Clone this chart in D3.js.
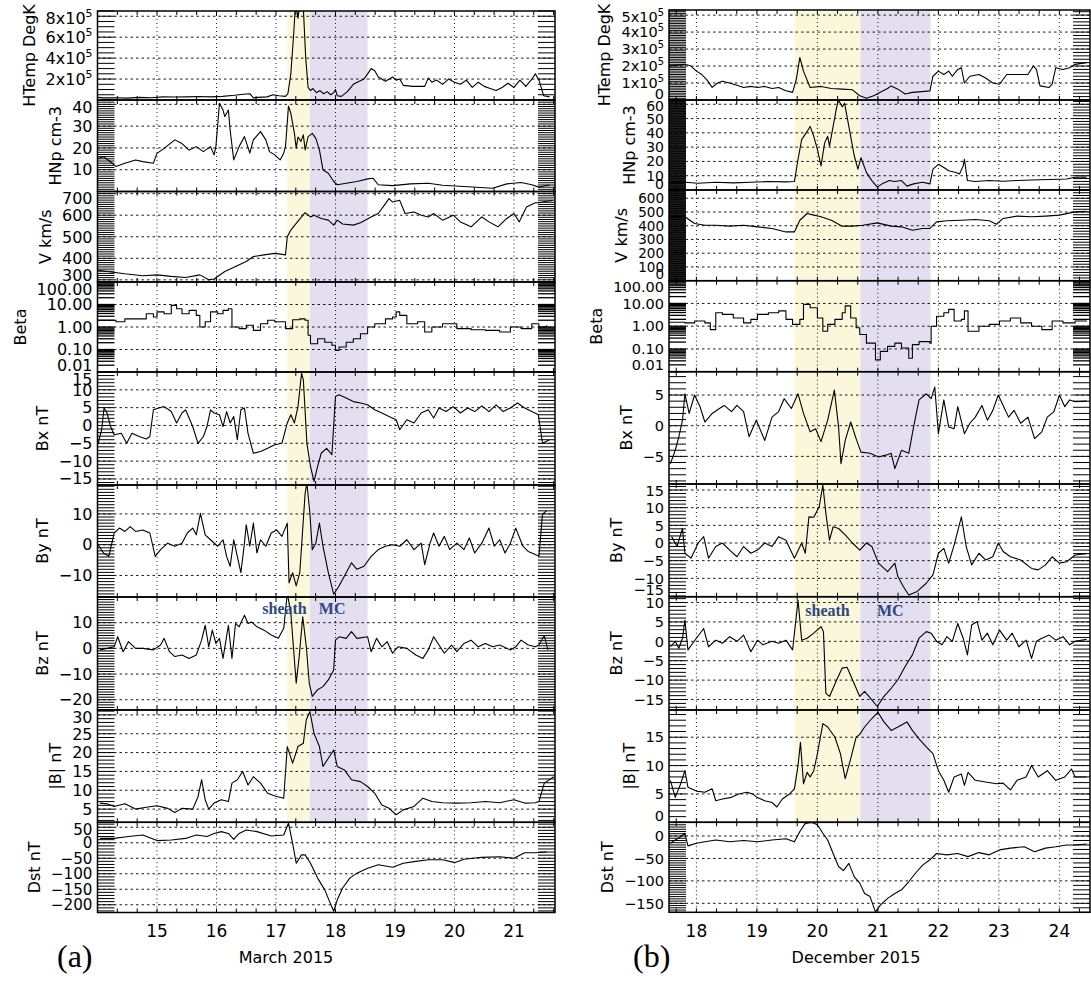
<!DOCTYPE html>
<html><head><meta charset="utf-8">
<script src="https://cdn.jsdelivr.net/npm/d3@7"></script>
<style>
body{margin:0;background:#fff;}
svg{display:block;}
text{font-family:"DejaVu Sans",sans-serif;fill:#000;}
</style></head><body>
<svg id="c" width="1091" height="981"></svg>
<script>
// ---------------- DATA: March 2015 (a) ----------------
const aTemp=[[14.00,0.25e5],[14.10,0.20e5],[14.30,0.22e5],[14.50,0.18e5],[14.70,0.25e5],[14.90,0.22e5],[15.10,0.30e5],[15.30,0.28e5],[15.50,0.30e5],[15.70,0.33e5],[15.90,0.30e5],[16.10,0.35e5],[16.30,0.45e5],[16.45,0.55e5],[16.56,0.60e5],[16.62,0.20e5],[16.70,0.25e5],[16.85,0.30e5],[16.95,0.50e5],[17.05,0.40e5],[17.16,0.35e5],[17.20,0.60e5],[17.25,2.5e5],[17.30,6.5e5],[17.33,9.5e5],[17.37,7.8e5],[17.41,9.6e5],[17.46,8.8e5],[17.50,4.0e5],[17.54,1.2e5],[17.58,0.9e5],[17.62,1.1e5],[17.68,0.7e5],[17.74,0.9e5],[17.80,0.6e5],[17.86,0.8e5],[17.92,0.5e5],[17.97,0.7e5],[18.00,1.0e5],[18.03,0.4e5],[18.10,0.35e5],[18.20,0.8e5],[18.30,1.5e5],[18.40,1.8e5],[18.48,2.0e5],[18.54,2.5e5],[18.60,3.0e5],[18.66,2.8e5],[18.72,2.2e5],[18.84,1.8e5],[18.96,2.2e5],[19.02,1.9e5],[19.08,2.0e5],[19.14,1.4e5],[19.30,1.3e5],[19.50,1.3e5],[19.56,2.1e5],[19.62,1.7e5],[19.70,1.9e5],[19.80,1.5e5],[19.90,2.0e5],[20.00,1.7e5],[20.10,1.5e5],[20.20,1.9e5],[20.30,1.2e5],[20.40,1.7e5],[20.50,1.3e5],[20.60,1.1e5],[20.70,0.9e5],[20.80,1.2e5],[20.90,1.6e5],[21.00,1.2e5],[21.10,1.9e5],[21.20,1.3e5],[21.30,2.0e5],[21.36,2.5e5],[21.42,1.9e5],[21.50,0.4e5],[21.60,0.3e5]];
const aNp=[[14.00,15],[14.10,16],[14.20,14],[14.31,11.5],[14.46,13],[14.64,14.5],[14.76,13.7],[14.94,13],[15.00,17.5],[15.12,19.8],[15.30,23.7],[15.42,22],[15.54,19],[15.66,20.6],[15.78,18.3],[15.90,20.6],[15.96,16.8],[15.99,20.6],[16.05,40.5],[16.11,37.4],[16.14,34.4],[16.20,37.4],[16.23,28],[16.29,14.5],[16.38,20.6],[16.47,25.2],[16.56,17.6],[16.62,23.7],[16.74,27.5],[16.83,23.7],[16.89,18.3],[16.98,16.8],[17.07,14.5],[17.13,17.6],[17.16,20.6],[17.21,39.2],[17.25,35.9],[17.31,26.7],[17.34,19.9],[17.37,25],[17.42,23],[17.46,26],[17.49,19.1],[17.54,25.2],[17.61,26.7],[17.67,24.4],[17.73,19.1],[17.79,9.9],[17.88,8.4],[17.97,4.6],[18.03,3.1],[18.18,3.8],[18.36,4.6],[18.54,5.8],[18.63,6.1],[18.72,3.1],[18.96,2.7],[19.26,3.5],[19.56,3.8],[19.80,2.9],[20.16,2.3],[20.64,1.5],[20.88,3.5],[21.12,4.1],[21.30,3.1],[21.42,2.0],[21.50,2.5],[21.60,3]];
const aV=[[14.00,346],[14.16,339],[14.46,328],[14.76,319],[15.00,323],[15.24,316],[15.48,311],[15.72,323],[15.87,300],[15.96,304],[16.14,339],[16.32,362],[16.50,385],[16.62,408],[16.80,416],[16.98,423],[17.16,416],[17.19,500],[17.25,531],[17.34,562],[17.43,592],[17.49,612],[17.58,592],[17.64,600],[17.76,585],[17.88,577],[17.97,554],[18.03,577],[18.12,559],[18.30,554],[18.42,565],[18.60,592],[18.72,608],[18.84,654],[18.90,677],[18.96,661],[19.08,669],[19.17,608],[19.32,615],[19.44,600],[19.56,592],[19.65,608],[19.80,577],[19.98,600],[20.10,569],[20.28,546],[20.46,592],[20.58,569],[20.73,546],[20.88,585],[21.00,608],[21.09,569],[21.21,638],[21.36,658],[21.42,658],[21.55,665],[21.65,668]];
const aBeta=[[14.00,2.0],[14.31,1.7],[14.46,2.3],[14.82,3.9],[14.94,2.8],[15.00,4.7],[15.12,3.9],[15.24,9.1],[15.33,6.5],[15.42,3.9],[15.54,5.5],[15.66,3.3],[15.72,1.0],[15.81,1.7],[15.90,4.7],[16.02,3.9],[16.11,5.5],[16.20,6.5],[16.26,1.0],[16.38,0.85],[16.50,1.2],[16.62,0.71],[16.74,1.4],[16.86,2.0],[16.98,1.7],[17.10,1.7],[17.16,0.85],[17.28,2.1],[17.40,2.3],[17.49,2.0],[17.54,0.43],[17.58,0.18],[17.70,0.30],[17.82,0.21],[17.94,0.155],[18.00,0.091],[18.06,0.13],[18.18,0.21],[18.30,0.30],[18.42,0.5],[18.54,1.0],[18.66,1.4],[18.84,2.3],[18.96,2.8],[19.02,4.7],[19.08,3.3],[19.20,1.4],[19.38,1.7],[19.50,0.6],[19.62,1.0],[19.80,1.4],[20.04,0.85],[20.28,0.76],[20.52,0.71],[20.76,0.6],[20.94,1.0],[21.12,0.85],[21.30,1.4],[21.42,1.0],[21.55,1.2]];
const aBx=[[14.01,-5],[14.07,-1.2],[14.11,4.9],[14.16,3.5],[14.22,-0.3],[14.28,-2.6],[14.40,-2.2],[14.49,-5],[14.58,-2.2],[14.70,-3.1],[14.82,-3.8],[14.88,-3.1],[14.94,4.4],[15.03,4.9],[15.12,5.3],[15.24,3.9],[15.33,0.7],[15.42,3.5],[15.48,4.4],[15.60,-0.3],[15.69,-5],[15.78,-3.1],[15.84,-0.3],[15.90,4.4],[15.96,3.5],[16.05,3],[16.11,-0.3],[16.17,3.9],[16.23,0.7],[16.29,2.5],[16.35,-4],[16.41,4.4],[16.47,4.9],[16.53,-2.2],[16.62,-7.8],[16.74,-7.3],[16.86,-6.4],[16.98,-5.4],[17.10,-5],[17.19,0.7],[17.25,3],[17.31,0.7],[17.37,5.3],[17.43,14.7],[17.46,12.8],[17.52,-5],[17.58,-11.5],[17.64,-15.7],[17.70,-11.5],[17.76,-7.8],[17.85,-6.4],[17.94,-8.2],[18.00,8.1],[18.06,8.6],[18.18,7.7],[18.30,6.7],[18.42,6.3],[18.54,5.8],[18.66,4.4],[18.78,3.5],[18.90,2.5],[19.02,1.6],[19.08,-1.2],[19.20,1.6],[19.32,0.7],[19.44,3.5],[19.56,4.4],[19.65,2.1],[19.74,4.9],[19.86,3.9],[19.98,5.3],[20.10,3.5],[20.22,4.9],[20.34,3.9],[20.46,5.5],[20.58,3.9],[20.70,5.8],[20.82,3.9],[20.94,4.9],[21.06,6.3],[21.18,4.9],[21.30,3.9],[21.41,3],[21.48,-5],[21.60,-4]];
const aBy=[[14.01,0],[14.10,-2.7],[14.19,-3.8],[14.28,3.8],[14.37,5.4],[14.46,4.3],[14.55,5.9],[14.64,4.3],[14.76,4.8],[14.88,3.8],[14.97,-3.8],[15.06,-1.6],[15.18,0.5],[15.30,-0.5],[15.42,0.5],[15.51,3.8],[15.60,5.4],[15.66,3.2],[15.73,10.2],[15.81,3.2],[15.90,1.6],[16.02,-0.5],[16.11,1.6],[16.17,-3.8],[16.23,-7],[16.29,1.6],[16.35,-3.8],[16.41,-9.1],[16.47,0.5],[16.50,6.5],[16.56,-0.5],[16.62,7],[16.68,-2.7],[16.74,1.6],[16.83,-0.5],[16.92,3.8],[17.01,4.8],[17.10,2.7],[17.19,7],[17.22,-12.4],[17.28,-9.1],[17.34,-13.4],[17.40,-9.1],[17.49,16.7],[17.52,20],[17.57,10.2],[17.61,-1.6],[17.67,0.5],[17.73,7],[17.79,-0.5],[17.88,-9.1],[17.97,-16.1],[18.06,-13.4],[18.18,-9.1],[18.27,-5.9],[18.36,-8],[18.48,-7],[18.60,-3.8],[18.72,-1.6],[18.84,-0.5],[18.96,0],[19.08,-0.5],[19.20,1.6],[19.32,-1.6],[19.44,0.5],[19.50,-6.5],[19.59,0.5],[19.65,3.8],[19.74,-0.5],[19.83,2.7],[19.92,-1.6],[20.04,0.5],[20.16,-1.6],[20.25,2.2],[20.34,-2.7],[20.46,0.5],[20.58,5.4],[20.67,-0.5],[20.76,1.6],[20.85,-2.7],[20.94,0.5],[21.03,5.4],[21.15,-0.5],[21.24,-2.2],[21.36,-3.2],[21.42,-3.8],[21.48,10],[21.55,11]];
const aBz=[[14.04,-0.6],[14.16,0],[14.28,0.6],[14.34,4.5],[14.43,-1.3],[14.52,2.6],[14.64,0],[14.76,0],[14.94,-0.6],[15.06,1.3],[15.12,3.9],[15.21,-1.3],[15.30,-3.2],[15.42,-2.6],[15.54,-3.9],[15.66,-2.6],[15.75,3.2],[15.81,9],[15.87,0.6],[15.93,7.1],[15.99,1.9],[16.05,3.9],[16.11,-3.9],[16.20,9],[16.26,-3.9],[16.32,9.7],[16.38,8.4],[16.47,12.9],[16.53,9.7],[16.59,10.3],[16.68,8.4],[16.80,7.1],[16.92,5.2],[17.04,3.9],[17.13,7.8],[17.19,21.5],[17.25,13.6],[17.31,-4.5],[17.34,-13.6],[17.39,-3.2],[17.45,12.3],[17.51,0.6],[17.56,-13.6],[17.61,-18.7],[17.70,-16.1],[17.79,-14.9],[17.88,-12.3],[17.97,-8.4],[18.00,3.2],[18.06,4.5],[18.18,3.9],[18.27,6.5],[18.36,3.9],[18.54,4.5],[18.60,-1.3],[18.69,3.9],[18.78,0.6],[18.87,2.6],[18.96,-1.9],[19.05,0.6],[19.20,0],[19.35,-2.6],[19.47,-3.9],[19.56,-0.6],[19.65,4.5],[19.74,1.3],[19.83,-1.9],[19.95,1.3],[20.04,-1.3],[20.16,1.9],[20.28,3.2],[20.40,0.6],[20.52,1.9],[20.64,0.6],[20.76,1.3],[20.94,-0.6],[21.03,0.6],[21.12,3.2],[21.24,1.3],[21.36,0.6],[21.42,1.3],[21.51,5],[21.57,-0.6]];
const aB=[[14.04,6.6],[14.16,6.4],[14.28,5.7],[14.46,6.4],[14.64,5],[14.82,5.5],[15.00,5.9],[15.18,5.2],[15.30,4.1],[15.42,5.2],[15.60,5],[15.69,8.3],[15.75,12.8],[15.81,7.5],[15.87,5],[15.96,6.6],[16.08,7.5],[16.20,7],[16.26,11.9],[16.35,12.8],[16.44,15],[16.53,11.4],[16.62,13.6],[16.74,11.9],[16.86,9.2],[16.98,8.5],[17.13,7.9],[17.19,21.6],[17.28,17.2],[17.37,21.6],[17.46,22.5],[17.51,28.7],[17.57,30.9],[17.64,25.1],[17.73,21.6],[17.79,16.3],[17.88,18.5],[17.97,20.7],[18.03,16.3],[18.15,15.4],[18.27,12.8],[18.42,12.3],[18.54,11],[18.66,9.2],[18.78,6.1],[18.90,5.2],[19.02,3.5],[19.14,4.8],[19.32,5.7],[19.47,7.9],[19.62,7],[19.80,6.7],[20.04,6.6],[20.28,6.7],[20.52,7],[20.76,6.7],[21.00,7.5],[21.18,6.6],[21.36,6.7],[21.42,7],[21.51,11.9],[21.67,13.6]];
const aDst=[[14.04,14],[14.28,14],[14.52,20],[14.76,25],[15.00,7],[15.24,9],[15.48,14],[15.66,25],[15.84,20],[15.96,30],[16.08,36],[16.20,30],[16.29,11],[16.38,30],[16.50,41],[16.68,36],[16.92,22],[17.13,25],[17.21,63],[17.28,-2],[17.34,-66],[17.43,-39],[17.49,-39],[17.58,-66],[17.70,-114],[17.82,-152],[17.91,-194],[17.97,-221],[18.03,-184],[18.12,-146],[18.24,-114],[18.36,-98],[18.54,-82],[18.72,-71],[18.96,-79],[19.14,-66],[19.32,-61],[19.56,-55],[19.80,-55],[20.01,-64],[20.16,-53],[20.46,-47],[20.76,-45],[21.00,-50],[21.18,-32],[21.36,-32],[21.55,-30]];

// ---------------- DATA: December 2015 (b) ----------------
const bTemp=[[17.55,2.0e5],[17.81,2.1e5],[17.91,2.0e5],[18.00,1.7e5],[18.09,1.5e5],[18.17,1.2e5],[18.26,0.74e5],[18.35,1.0e5],[18.43,1.1e5],[18.55,1.0e5],[18.67,0.87e5],[18.78,0.74e5],[18.90,0.8e5],[19.01,0.74e5],[19.13,0.8e5],[19.25,0.68e5],[19.36,0.74e5],[19.48,0.54e5],[19.59,0.45e5],[19.65,1.2e5],[19.71,2.5e5],[19.77,1.7e5],[19.88,0.74e5],[20.06,0.8e5],[20.23,0.68e5],[20.41,0.64e5],[20.58,0.6e5],[20.70,0.25e5],[20.81,0.1e5],[20.93,0.25e5],[21.04,0.45e5],[21.16,0.68e5],[21.22,0.83e5],[21.33,0.64e5],[21.45,0.35e5],[21.57,0.45e5],[21.68,0.48e5],[21.86,0.54e5],[21.91,1.4e5],[22.00,1.7e5],[22.09,1.5e5],[22.17,1.7e5],[22.23,1.4e5],[22.32,1.8e5],[22.38,1.9e5],[22.43,1.0e5],[22.52,1.4e5],[22.67,1.5e5],[22.78,1.3e5],[22.90,1.0e5],[23.01,0.93e5],[23.13,1.5e5],[23.30,1.5e5],[23.48,1.5e5],[23.57,2.0e5],[23.62,1.8e5],[23.68,0.83e5],[23.83,0.74e5],[23.88,0.93e5],[23.94,1.9e5],[24.06,1.8e5],[24.17,1.9e5],[24.26,2.1e5],[24.45,2.2e5]];
const bNp=[[17.55,5],[17.81,5.4],[18.03,4.7],[18.32,5.4],[18.61,5],[18.90,5.4],[19.19,5.9],[19.48,5.7],[19.62,5.9],[19.68,21.5],[19.74,35.3],[19.83,41],[19.88,44.5],[19.94,37.6],[20.00,28.4],[20.06,16.9],[20.12,33],[20.17,37.6],[20.20,30.7],[20.26,44.5],[20.32,58.3],[20.35,62.9],[20.41,58.3],[20.45,60.6],[20.49,51.4],[20.55,37.6],[20.61,23.8],[20.67,14.6],[20.72,22.6],[20.81,12.3],[20.90,6.6],[20.99,2],[21.07,4.3],[21.19,6.6],[21.28,5.9],[21.39,6.6],[21.48,2.7],[21.59,4.3],[21.74,5.4],[21.86,4.3],[21.91,14.6],[22.00,18],[22.09,15.8],[22.17,13.5],[22.29,12.3],[22.35,11.2],[22.41,16.9],[22.43,21.5],[22.48,6.6],[22.61,5.9],[22.84,6.6],[23.07,6.1],[23.30,6.6],[23.54,7],[23.83,7.3],[24.12,7.7],[24.26,8.9],[24.45,9]];
const bV=[[17.55,470],[17.81,465],[17.97,416],[18.14,404],[18.32,404],[18.55,397],[18.78,404],[19.01,392],[19.25,380],[19.48,355],[19.62,355],[19.71,440],[19.83,489],[19.94,477],[20.06,465],[20.23,440],[20.41,397],[20.58,397],[20.75,404],[20.99,421],[21.22,397],[21.39,392],[21.57,367],[21.74,380],[21.86,380],[21.97,428],[22.14,436],[22.38,440],[22.61,445],[22.84,436],[22.96,411],[23.07,453],[23.30,470],[23.54,465],[23.77,470],[24.00,477],[24.26,501],[24.45,505]];
const bBeta=[[17.55,1.5],[17.81,1.4],[17.97,1.7],[18.14,1.4],[18.23,0.71],[18.32,3.9],[18.43,3.3],[18.61,2.3],[18.78,1.4],[18.90,2.0],[19.01,3.3],[19.19,3.9],[19.36,4.7],[19.48,2.0],[19.59,1.2],[19.71,2.0],[19.77,9.1],[19.88,6.5],[20.00,2.3],[20.09,0.6],[20.17,1.2],[20.29,2.0],[20.41,3.9],[20.46,7.8],[20.55,2.3],[20.64,0.85],[20.70,0.43],[20.81,0.18],[20.96,0.033],[21.04,0.078],[21.16,0.13],[21.28,0.18],[21.39,0.11],[21.51,0.039],[21.57,0.155],[21.68,0.21],[21.86,0.18],[21.88,1.0],[21.97,2.75],[22.09,3.9],[22.17,5.5],[22.26,1.7],[22.38,2.0],[22.43,4.7],[22.49,0.6],[22.67,1.0],[22.84,1.2],[23.01,1.7],[23.19,2.3],[23.36,1.4],[23.54,1.0],[23.71,0.71],[23.88,1.7],[24.06,1.4],[24.26,1.7],[24.45,1.6]];
const bBx=[[17.57,-6.2],[17.65,-4],[17.71,-1.8],[17.77,0.9],[17.81,5.2],[17.88,2],[17.97,5],[18.06,3.1],[18.14,0.6],[18.26,2],[18.38,2.8],[18.46,3.3],[18.58,2.3],[18.67,3.3],[18.78,2.3],[18.87,-1.8],[18.99,0.9],[19.13,-2.4],[19.25,1.4],[19.36,2.3],[19.45,4.4],[19.57,2.8],[19.68,5.2],[19.77,2],[19.88,-1],[19.97,-0.5],[20.06,-2.6],[20.17,0.9],[20.28,5.8],[20.35,-0.2],[20.39,-6.2],[20.46,-2.4],[20.55,0.6],[20.64,-2.1],[20.72,-4.3],[20.87,-4.5],[21.01,-5.1],[21.13,-4.8],[21.22,-4.5],[21.28,-7],[21.39,-4],[21.51,-4.5],[21.59,-0.2],[21.68,4.2],[21.80,5.2],[21.88,4.4],[21.94,6.3],[22.00,-1.3],[22.09,4.2],[22.17,-0.2],[22.26,-0.5],[22.32,3.1],[22.43,-1.3],[22.52,0.4],[22.61,1.4],[22.72,3.3],[22.81,0.9],[22.90,2.5],[22.99,5],[23.07,3.3],[23.16,1.4],[23.25,2.5],[23.36,0.4],[23.48,1.4],[23.59,-2.1],[23.71,-1],[23.80,1.4],[23.91,2.3],[24.00,5],[24.09,3.1],[24.17,4.2],[24.26,3.9],[24.45,4]];
const bBy=[[17.59,1.8],[17.68,-1],[17.77,4.1],[17.81,-2.9],[17.91,-4.3],[18.03,0],[18.12,1.8],[18.20,-4.3],[18.32,-1],[18.43,0],[18.55,-2],[18.67,-3.9],[18.78,-1],[18.90,-2.9],[19.01,-2],[19.13,0],[19.25,-1],[19.36,1.8],[19.48,0.8],[19.62,-4.3],[19.74,0],[19.80,-2.9],[19.86,7.4],[19.94,7.3],[20.03,10.3],[20.09,16.4],[20.14,8.4],[20.20,0.8],[20.26,4.6],[20.35,4.1],[20.46,2.3],[20.58,0],[20.70,-2],[20.81,0],[20.90,-1],[21.01,-5.7],[21.16,-8.1],[21.28,-5.7],[21.33,-9.5],[21.42,-12.3],[21.51,-14.7],[21.65,-13.7],[21.80,-11.4],[21.91,-9],[22.00,-2.9],[22.09,-1.5],[22.17,-5.7],[22.26,-0.6],[22.38,7.4],[22.46,-1],[22.55,-6.2],[22.67,-2.9],[22.78,-4.8],[22.90,-3.9],[22.99,0],[23.07,-2.4],[23.19,-3.9],[23.36,-4.8],[23.54,-7.2],[23.65,-7.6],[23.77,-6.2],[23.88,-3.9],[24.00,-5.7],[24.12,-5.3],[24.26,-3.4],[24.45,-3]];
const bBz=[[17.57,-1.4],[17.65,0],[17.71,-1.8],[17.77,0.8],[17.81,5.5],[17.86,-2.2],[18.00,0.8],[18.12,3.3],[18.20,-1.4],[18.32,0.3],[18.43,-0.5],[18.55,1.2],[18.67,0],[18.78,1.6],[18.90,-2.7],[19.01,0.3],[19.10,-0.9],[19.25,0],[19.36,-0.5],[19.48,0.3],[19.59,-2.2],[19.68,10.6],[19.74,0.3],[19.83,0.8],[19.94,2.1],[20.06,3.8],[20.10,2.5],[20.14,-13.4],[20.20,-14.2],[20.32,-9.9],[20.41,-6.9],[20.49,-6.7],[20.58,-9.9],[20.70,-14.2],[20.78,-12.9],[20.90,-15.1],[20.99,-16.8],[21.10,-14.2],[21.22,-12.1],[21.33,-9.9],[21.45,-6.5],[21.57,-3.5],[21.68,0.8],[21.80,2.5],[21.88,2.1],[21.97,0],[22.06,-0.9],[22.14,1.2],[22.23,0],[22.32,4.6],[22.41,0.8],[22.48,-3.5],[22.55,4.2],[22.64,5.1],[22.72,0.3],[22.81,2.1],[22.90,-0.9],[23.01,2.9],[23.13,0.3],[23.22,2.1],[23.33,-1.4],[23.45,0.3],[23.54,-4.4],[23.62,0],[23.71,0.8],[23.83,1.6],[23.94,0.3],[24.06,1.2],[24.17,-0.9],[24.26,0],[24.45,0.5]];
const bB=[[17.57,7.4],[17.65,4.4],[17.74,6.8],[17.81,9.1],[17.86,6.2],[18.00,5.5],[18.14,5.3],[18.26,5.9],[18.32,3.8],[18.43,4.1],[18.58,4.4],[18.70,5],[18.84,5.3],[18.93,5],[19.00,4.4],[19.13,3.8],[19.25,3.5],[19.33,2.7],[19.42,4.1],[19.54,5],[19.62,5.9],[19.68,10],[19.72,14.1],[19.77,6.8],[19.83,8.8],[19.88,8],[19.94,9.1],[20.00,12.1],[20.09,17.4],[20.17,16.8],[20.29,15],[20.38,12.1],[20.46,7.7],[20.55,11.2],[20.64,15],[20.70,15.5],[20.78,16.8],[20.90,18.3],[21.00,19.4],[21.10,17.7],[21.22,16.2],[21.33,16.8],[21.48,17.7],[21.57,16.2],[21.68,14.7],[21.80,13.3],[21.91,12.1],[22.00,9.1],[22.09,7.4],[22.17,5.3],[22.26,8],[22.38,8.5],[22.43,6.5],[22.49,8.8],[22.61,7.4],[22.78,7.1],[22.96,6.8],[23.07,6.9],[23.19,5.7],[23.30,7.4],[23.45,8],[23.54,10],[23.65,8],[23.80,9.1],[23.94,7.4],[24.09,8],[24.20,9.4],[24.26,8],[24.45,8]];
const bDst=[[17.57,-16],[17.65,-9],[17.74,-1.5],[17.81,6],[17.86,-22],[18.00,-16],[18.14,-13],[18.32,-9],[18.55,-13],[18.78,-10],[19.01,-13],[19.25,-9],[19.48,-6],[19.62,-13],[19.71,10],[19.80,28],[19.91,30],[20.00,25],[20.09,6],[20.17,-9],[20.26,-39],[20.35,-68],[20.43,-77],[20.52,-61],[20.61,-91],[20.70,-105],[20.78,-128],[20.87,-135],[20.96,-169],[21.04,-154],[21.16,-139],[21.28,-128],[21.39,-120],[21.51,-102],[21.62,-83],[21.74,-65],[21.86,-53],[21.97,-39],[22.14,-42],[22.32,-39],[22.49,-46],[22.67,-37],[22.84,-42],[23.01,-31],[23.19,-27],[23.42,-24],[23.59,-35],[23.77,-27],[23.94,-24],[24.12,-20],[24.26,-20],[24.45,-18]];

// ---------------- axes / labels ----------------
const panelTitles=["HTemp DegK","HNp cm-3","V km/s","Beta","Bx nT","By nT","Bz nT","|B| nT","Dst nT"];
const domainsA=[[0,8.5e5],[0,42],[290,710],[0.01,100],[-16.7,15],[-17,19.4],[-24,20],[1.5,31.3],[-225,66]];
const ticksA=[[2e5,4e5,6e5,8e5],[10,20,30,40],[300,400,500,600,700],[0.01,0.1,1,10,100],[-15,-10,-5,0,5,10,15],[-10,0,10],[-20,-10,0,10],[5,10,15,20,25,30],[-200,-150,-100,-50,0,50]];
const domainsB=[[0,5.3e5],[0,63],[0,660],[0.01,100],[-9.5,8.8],[-15.2,16.7],[-17.7,11.5],[0,19.8],[-170,30.5]];
const ticksB=[[0,1e5,2e5,3e5,4e5,5e5],[0,10,20,30,40,50,60],[0,100,200,300,400,500,600],[0.01,0.1,1,10,100],[-5,0,5],[-15,-10,-5,0,5,10,15],[-15,-10,-5,0,5,10],[0,5,10,15],[-150,-100,-50,0]];
const dayTicksA=[15,16,17,18,19,20,21];
const dayTicksB=[18,19,20,21,22,23,24];
const eventA=[17.19,17.57,18.54];   // sheath start, MC start, MC end
const eventB=[19.62,20.71,21.87];
const monthA="March 2015", monthB="December 2015";

const MINUS="\u2212";
const svg=d3.select("#c");
const defs=svg.append("defs");

const columns=[
 {id:"a",x0:97.5,x1:555,xdom:[14,21.69],bounds:[11,100,191.5,282,372,485,597,710,822.3,912.5],
  series:[aTemp,aNp,aV,aBeta,aBx,aBy,aBz,aB,aDst],domains:domainsA,ticks:ticksA,days:dayTicksA,event:eventA,
  month:monthA,monthX:286,tag:"(a)",tagX:57,sheathDay:16.77,mcDay:17.72,textY:614,fs:16,
  bandL:[20,40,40,0,25,35,60,35,35],bandR:[20,30,30,0,25,30,40,30,35]},
 {id:"b",x0:669,x1:1090,xdom:[17.547,24.506],bounds:[10,100,190,280.7,371.7,484,596.7,710,822.3,912.3],
  series:[bTemp,bNp,bV,bBeta,bBx,bBy,bBz,bB,bDst],domains:domainsB,ticks:ticksB,days:dayTicksB,event:eventB,
  month:monthB,monthX:856,tag:"(b)",tagX:633,sheathDay:19.80,mcDay:20.985,textY:616,fs:14.5,
  bandL:[60,100,100,0,25,30,30,25,30],bandR:[30,30,40,0,25,25,25,25,25]}
];

function fmt(i,v){
  if(i===0) return v===0?["0",null]:[(v/1e5)+"x10","5"];
  if(i===3) return [v.toFixed(2),null];
  return [(v<0?MINUS:"")+Math.abs(v),null];
}

columns.forEach(col=>{
  const x=d3.scaleLinear().domain(col.xdom).range([col.x0,col.x1]);
  const g=svg.append("g");
  const yT=col.bounds[0], yB=col.bounds[8];
  // event shading
  g.append("rect").attr("x",x(col.event[0])).attr("y",yT).attr("width",x(col.event[1])-x(col.event[0])).attr("height",yB-yT).attr("fill","#faf7da");
  g.append("rect").attr("x",x(col.event[1])).attr("y",yT).attr("width",x(col.event[2])-x(col.event[1])).attr("height",yB-yT).attr("fill","#e4dff0");

  col.series.forEach((data,i)=>{
    const top=col.bounds[i], bot=col.bounds[i+1];
    const isLog=(i===3);
    const y=(isLog?d3.scaleLog():d3.scaleLinear()).domain(col.domains[i]).range([bot,top]);
    const pg=g.append("g");
    const cid="clip-"+col.id+i;
    defs.append("clipPath").attr("id",cid).append("rect").attr("x",col.x0).attr("y",top).attr("width",col.x1-col.x0).attr("height",bot-top);
    // horizontal grid
    pg.selectAll(".hg").data(col.ticks[i].filter(t=>Math.abs(y(t)-top)>1.5&&Math.abs(y(t)-bot)>1.5)).join("line")
      .attr("x1",col.x0).attr("x2",col.x1).attr("y1",d=>y(d)).attr("y2",d=>y(d))
      .attr("stroke","#000").attr("stroke-width",0.9).attr("stroke-dasharray","2.5,3");
    // vertical grid
    pg.selectAll(".vg").data(col.days).join("line")
      .attr("x1",d=>x(d)).attr("x2",d=>x(d)).attr("y1",top).attr("y2",bot)
      .attr("stroke","#000").attr("stroke-width",0.9).attr("stroke-dasharray","1,3");
    // data
    const line=d3.line().x(d=>x(d[0])).y(d=>y(d[1])).curve(isLog?d3.curveStepAfter:d3.curveLinear);
    pg.append("path").datum(data).attr("clip-path","url(#"+cid+")").attr("d",line)
      .attr("fill","none").attr("stroke","#000").attr("stroke-width",1.1).attr("stroke-linejoin","round");
    // hash bands (minor ticks)
    const stripes=n=>(isLog?y.ticks():y.ticks(n)).filter(v=>y(v)>=top&&y(v)<=bot);
    [[col.x0,col.bandL[i]],[col.x1-17,col.bandR[i]]].forEach(([bx,n])=>{
      pg.selectAll(null).data(stripes(n)).join("line")
        .attr("x1",bx).attr("x2",bx+17).attr("y1",d=>y(d)).attr("y2",d=>y(d))
        .attr("stroke","#000").attr("stroke-width",isLog?1.3:1);
    });
    // minor x ticks (every 8 h)
    const mt=d3.range(Math.ceil(col.xdom[0]*3),Math.floor(col.xdom[1]*3)+1).map(k=>k/3);
    pg.selectAll(null).data(mt).join("line").attr("x1",d=>x(d)).attr("x2",d=>x(d)).attr("y1",top).attr("y2",top+4).attr("stroke","#000");
    pg.selectAll(null).data(mt).join("line").attr("x1",d=>x(d)).attr("x2",d=>x(d)).attr("y1",bot).attr("y2",bot-4).attr("stroke","#000");
    // frame
    pg.append("rect").attr("x",col.x0).attr("y",top).attr("width",col.x1-col.x0).attr("height",bot-top)
      .attr("fill","none").attr("stroke","#000").attr("stroke-width",1.5);
    // tick labels: kept inside the panel's vertical extent; shrunk where the ticks are crowded
    const lg=pg.append("g");
    const tk=col.ticks[i];
    let minGap=1e9;
    for(let k=1;k<tk.length;k++) minGap=Math.min(minGap,Math.abs(y(tk[k])-y(tk[k-1])));
    const fs=Math.min(col.fs,minGap*0.98);
    const pad=fs*0.45;
    tk.forEach(v=>{
      const [m,sup]=fmt(i,v);
      const yc=Math.max(top+pad,Math.min(bot-pad,y(v)));
      const t=lg.append("text").attr("x",col.x0-5).attr("y",yc+fs*0.36).attr("text-anchor","end").attr("font-size",fs);
      t.append("tspan").text(m);
      if(sup) t.append("tspan").attr("dy",-fs*0.42).attr("font-size",fs*0.68).text(sup);
    });
    const bb=lg.node().getBBox();
    pg.append("text").attr("transform","translate("+(bb.x-11)+","+((top+bot)/2)+") rotate(-90)")
      .attr("text-anchor","middle").attr("font-size",16).text(panelTitles[i]);
  });
  // day labels
  g.selectAll(".dl").data(col.days).join("text").attr("x",d=>x(d)).attr("y",937).attr("text-anchor","middle").attr("font-size",17).text(d=>d);
  g.append("text").attr("x",col.monthX).attr("y",963).attr("text-anchor","middle").attr("font-size",16).text(col.month);
  g.append("text").attr("x",col.tagX).attr("y",967).attr("font-size",32).style("font-family","'Liberation Serif',serif").text(col.tag);
  // event labels
  g.append("text").attr("x",x(col.sheathDay)).attr("y",col.textY).attr("font-size",16).attr("font-weight","bold")
    .style("font-family","'Liberation Serif',serif").style("fill","#2b4784").text("sheath");
  g.append("text").attr("x",x(col.mcDay)).attr("y",col.textY).attr("font-size",16).attr("font-weight","bold")
    .style("font-family","'Liberation Serif',serif").style("fill","#2b4784").text("MC");
});
</script></body></html>
